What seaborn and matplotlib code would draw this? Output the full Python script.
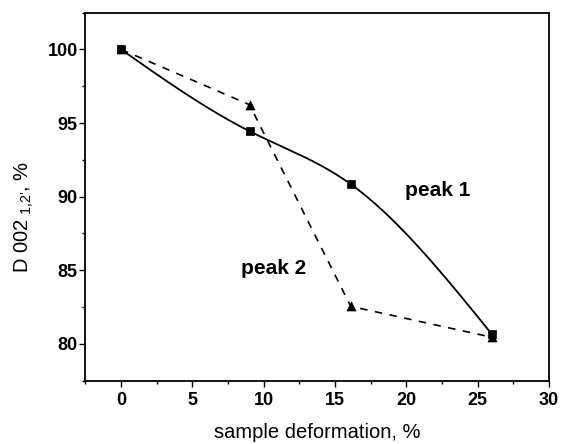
import numpy as np
import pandas as pd
import matplotlib
matplotlib.use("Agg")
import matplotlib.pyplot as plt
import seaborn as sns
from matplotlib.ticker import MultipleLocator

# ---- data ----
deformation = [0.0, 9.0, 16.1, 26.0]
peak1 = [100.0, 94.45, 90.85, 80.65]
peak2 = [100.0, 96.25, 82.55, 80.45]
xticks = [0, 5, 10, 15, 20, 25, 30]
yticks = [80, 85, 90, 95, 100]
label_peak1 = "peak 1"
label_peak2 = "peak 2"
xlabel = "sample deformation, %"
ylabel = "D 002$_{\\mathregular{\\ 1{,}2\u2019}}$, %"


def natural_spline(x, y, n=300):
    """Smooth connecting curve (like Origin's spline line) through the points."""
    x = np.asarray(x, float)
    y = np.asarray(y, float)
    k = len(x)
    h = np.diff(x)
    A = np.zeros((k, k))
    b = np.zeros(k)
    A[0, 0] = A[-1, -1] = 1.0
    for i in range(1, k - 1):
        A[i, i - 1] = h[i - 1]
        A[i, i] = 2 * (h[i - 1] + h[i])
        A[i, i + 1] = h[i]
        b[i] = 3 * ((y[i + 1] - y[i]) / h[i] - (y[i] - y[i - 1]) / h[i - 1])
    c = np.linalg.solve(A, b)
    bc = (y[1:] - y[:-1]) / h - h * (2 * c[:-1] + c[1:]) / 3
    d = (c[1:] - c[:-1]) / (3 * h)
    xs = np.linspace(x[0], x[-1], n)
    idx = np.clip(np.searchsorted(x, xs, side="right") - 1, 0, k - 2)
    dx = xs - x[idx]
    ys = y[idx] + bc[idx] * dx + c[idx] * dx ** 2 + d[idx] * dx ** 3
    return xs, ys


sns.set_style("ticks")
plt.rcParams["font.family"] = ["Liberation Sans", "DejaVu Sans"]
plt.rcParams["mathtext.fontset"] = "custom"
plt.rcParams["mathtext.rm"] = "Liberation Sans"
for key in ["text.color", "axes.labelcolor", "xtick.color", "ytick.color",
            "axes.edgecolor"]:
    plt.rcParams[key] = "black"

fig = plt.figure(figsize=(5.61, 4.44), dpi=100)
ax = fig.add_axes([0.1524, 0.1426, 0.8262, 0.8288])

df1 = pd.DataFrame({"x": deformation, "y": peak1})
df2 = pd.DataFrame({"x": deformation, "y": peak2})

xs, ys = natural_spline(df1["x"], df1["y"])
sns.lineplot(x=xs, y=ys, ax=ax, color="black", linewidth=1.3, sort=False)
sns.lineplot(data=df2, x="x", y="y", ax=ax, color="black", linewidth=1.2,
             sort=False)
ax.lines[-1].set_dashes((4.5, 4.5))

sns.scatterplot(data=df2, x="x", y="y", ax=ax, marker="^", s=42,
                color="black", edgecolor="black", linewidth=0.5, zorder=5)
sns.scatterplot(data=df1, x="x", y="y", ax=ax, marker="s", s=26,
                color="black", edgecolor="black", linewidth=0.5, zorder=6)

ax.set_xlim(-2.5, 30)
ax.set_ylim(77.5, 102.5)
ax.set_xticks(xticks)
ax.set_yticks(yticks)
ax.xaxis.set_minor_locator(MultipleLocator(2.5))
ax.yaxis.set_minor_locator(MultipleLocator(2.5))
ax.tick_params(axis="both", which="major", direction="out", length=4.5,
               width=1.0, color="black", labelsize=13, labelcolor="black")
ax.tick_params(axis="y", which="major", pad=1.0)
ax.tick_params(axis="x", which="major", pad=4.0)
ax.tick_params(axis="both", which="minor", direction="out", length=2.3,
               width=1.0, color="black")
ax.tick_params(top=False, right=False, which="both")
for lab in ax.get_xticklabels() + ax.get_yticklabels():
    lab.set_fontweight("bold")

for sp in ax.spines.values():
    sp.set_visible(True)
    sp.set_linewidth(1.3)
    sp.set_color("black")

ax.set_xlabel(xlabel, fontsize=14.5, labelpad=10)
ax.set_ylabel(ylabel, fontsize=14.5)
ax.yaxis.set_label_coords(-0.107, 0.445)

ax.text(22.2, 90.45, label_peak1, fontsize=15, fontweight="bold",
        ha="center", va="center")
ax.text(10.7, 85.1, label_peak2, fontsize=15, fontweight="bold",
        ha="center", va="center")

fig.savefig("out.png", dpi=100)
